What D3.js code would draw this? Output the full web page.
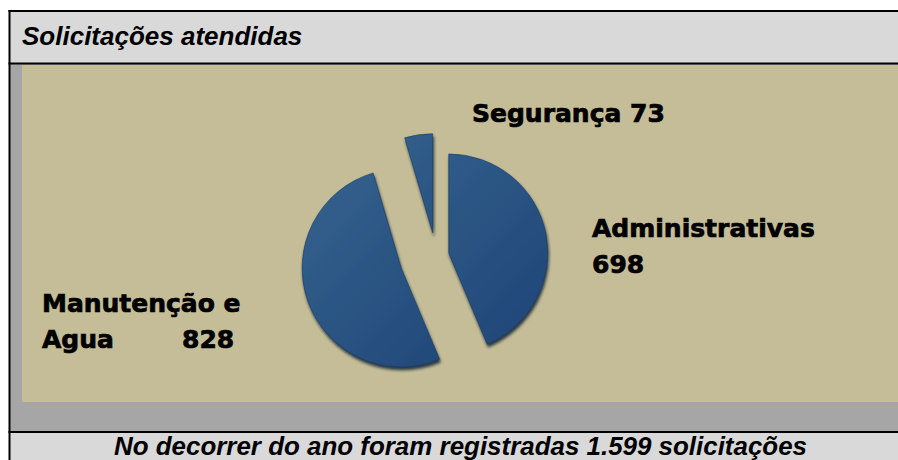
<!DOCTYPE html>
<html>
<head>
<meta charset="utf-8">
<script src="https://cdnjs.cloudflare.com/ajax/libs/d3/7.8.5/d3.min.js"></script>
<style>
  html, body { margin: 0; background: #fff; overflow: hidden; }
  #graphicContainer { width: 898px; height: 460px; }
  svg { display: block; }
</style>
</head>
<body>
<div id="graphicContainer"></div>
<script>
// data
const categories = ['Administrativas', 'Manutenção e Agua', 'Segurança'];
const values = [698, 828, 73];
const labelLines = [
  ['Administrativas', '698'],
  ['Manutenção e', 'Agua', '828'],
  ['Segurança 73']
];
const titleText = 'Solicitações atendidas';
const footText = 'No decorrer do ano foram registradas 1.599 solicitações';

// style
const explode = [13, 37, 23];
const Width = 898, Height = 460;
const pieC = { x: 436, y: 255.5 }, radius = 99;
const labelFont = '"DejaVu Sans", Verdana, sans-serif';

const container = d3.select('#graphicContainer');
const svg = container.append('svg')
  .attr('width', Width)
  .attr('height', Height);

const defs = svg.append('defs');
const grad = defs.append('linearGradient')
  .attr('id', 'pieGrad')
  .attr('gradientUnits', 'userSpaceOnUse')
  .attr('x1', 320).attr('y1', 150)
  .attr('x2', 545).attr('y2', 370)
  .attr('gradientTransform', `translate(${-pieC.x}, ${-pieC.y})`);
grad.append('stop').attr('offset', '0%').attr('stop-color', '#37648f');
grad.append('stop').attr('offset', '100%').attr('stop-color', '#1c4375');

const shadow = defs.append('filter')
  .attr('id', 'shadow')
  .attr('x', '-20%').attr('y', '-20%')
  .attr('width', '140%').attr('height', '140%');
shadow.append('feDropShadow')
  .attr('dx', 1).attr('dy', 3)
  .attr('stdDeviation', 1.4)
  .attr('flood-color', '#0a1a30')
  .attr('flood-opacity', 0.85);

// frame (right side is cut off in the original, so no right border)
svg.append('rect').attr('x', 10).attr('y', 11).attr('width', 888).attr('height', 52).attr('fill', '#d9d9d9');
svg.append('rect').attr('x', 10).attr('y', 64).attr('width', 888).attr('height', 368).attr('fill', '#a6a6a6');
svg.append('rect').attr('x', 22).attr('y', 65).attr('width', 876).attr('height', 337).attr('fill', '#c4bd97');
svg.append('rect').attr('x', 10).attr('y', 432).attr('width', 888).attr('height', 28).attr('fill', '#d9d9d9');

const lines = svg.append('g').attr('stroke', '#000').attr('stroke-width', 2);
[11, 63.5, 432].forEach(y => {
  lines.append('line').attr('x1', 8.5).attr('x2', 898).attr('y1', y).attr('y2', y);
});
lines.append('line').attr('x1', 9.5).attr('x2', 9.5).attr('y1', 10).attr('y2', 460);

// title
svg.append('text')
  .attr('x', 22).attr('y', 45)
  .attr('font-family', '"Liberation Sans", Arial, sans-serif')
  .attr('font-size', 26)
  .attr('font-weight', 'bold')
  .attr('font-style', 'italic')
  .attr('fill', '#000')
  .text(titleText);

// pie
const pie = d3.pie().sort(null).startAngle(0).endAngle(2 * Math.PI);
const arc = d3.arc().innerRadius(0).outerRadius(radius);
const arcs = pie(values);

const pieG = svg.append('g')
  .attr('class', 'pieG')
  .attr('transform', `translate(${pieC.x}, ${pieC.y})`);

pieG.selectAll('.slice')
  .data(arcs)
  .enter()
  .append('path')
  .attr('class', 'slice')
  .attr('transform', (d, i) => {
    const mid = (d.startAngle + d.endAngle) / 2;
    return `translate(${explode[i] * Math.sin(mid)}, ${-explode[i] * Math.cos(mid)})`;
  })
  .attr('d', arc)
  .attr('fill', 'url(#pieGrad)')
  .attr('stroke', '#1b3b66')
  .attr('stroke-width', 0.6)
  .attr('filter', 'url(#shadow)');

// labels
const labelG = svg.append('g')
  .attr('font-family', labelFont)
  .attr('font-weight', 'bold')
  .attr('font-size', 25)
  .attr('fill', '#000')
  .attr('stroke', '#000')
  .attr('stroke-width', 0.7);

labelG.append('text').attr('x', 592).attr('y', 237).text(labelLines[0][0]);
labelG.append('text').attr('x', 592).attr('y', 273).text(labelLines[0][1]);

labelG.append('text').attr('x', 42).attr('y', 312).text(labelLines[1][0]);
labelG.append('text').attr('x', 42).attr('y', 348).text(labelLines[1][1]);
labelG.append('text').attr('x', 182).attr('y', 348).text(labelLines[1][2]);

labelG.append('text').attr('x', 472).attr('y', 122).text(labelLines[2][0]);

// footer
const foot = svg.append('text')
  .attr('x', 114).attr('y', 455)
  .attr('font-family', '"Liberation Sans Narrow", "Arial Narrow", "Liberation Sans", sans-serif')
  .attr('font-size', 25)
  .attr('font-weight', 'bold')
  .attr('font-style', 'italic')
  .attr('fill', '#000')
  .text(footText);
const fw = foot.node().getComputedTextLength();
if (Math.abs(fw - 693) > 4) {
  foot.attr('textLength', 693).attr('lengthAdjust', 'spacingAndGlyphs');
}
</script>
</body>
</html>
